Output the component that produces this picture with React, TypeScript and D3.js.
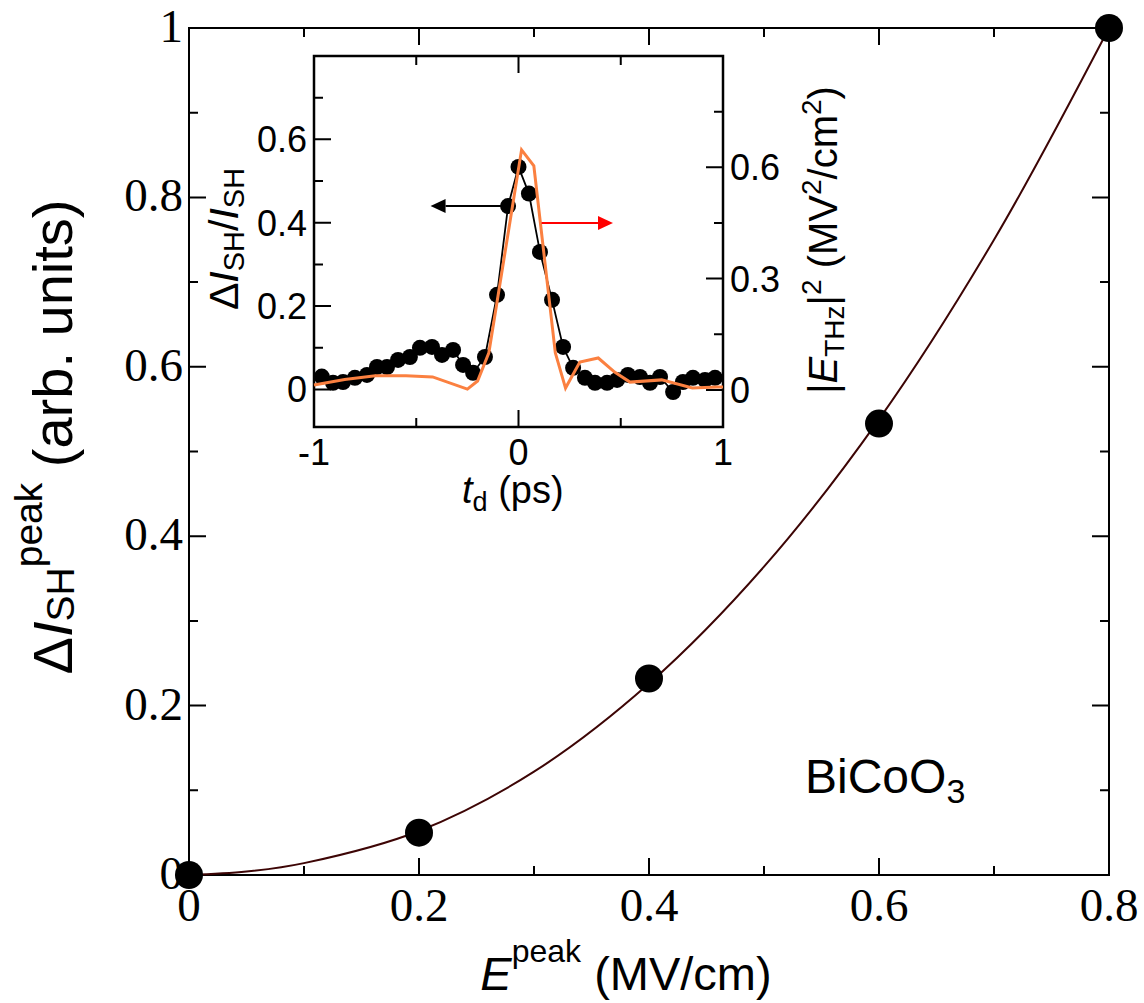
import React from 'react';
import * as d3 from 'd3';

// main panel: peak SH change vs THz peak field
const fieldPeak = [0, 0.2, 0.4, 0.6, 0.8];
const shPeak = [0, 0.05, 0.232, 0.533, 1.0];

// fit curve
const fitField = [0, 0.05, 0.1, 0.2, 0.3, 0.4, 0.5, 0.6, 0.7, 0.8];
const fitSh = [0, 0.004, 0.014, 0.052, 0.122, 0.226, 0.364, 0.538, 0.75, 1.0];

const mainXMajor = [0, 0.2, 0.4, 0.6, 0.8];
const mainXMinor = [0.1, 0.3, 0.5, 0.7];
const mainYMajor = [0, 0.2, 0.4, 0.6, 0.8, 1];
const mainYMinor = [0.1, 0.3, 0.5, 0.7, 0.9];

// inset: time traces
const delayT = [-0.962, -0.907, -0.858, -0.8, -0.741, -0.692, -0.643, -0.589, -0.531, -0.482,
  -0.423, -0.374, -0.32, -0.271, -0.222, -0.164, -0.105, -0.051, 0, 0.051,
  0.105, 0.164, 0.218, 0.267, 0.325, 0.374, 0.433, 0.482, 0.535, 0.594,
  0.643, 0.692, 0.756, 0.804, 0.853, 0.912, 0.961];
const shRatio = [0.031, 0.016, 0.018, 0.028, 0.035, 0.054, 0.054, 0.071, 0.078, 0.1,
  0.102, 0.083, 0.095, 0.059, 0.04, 0.078, 0.227, 0.44, 0.534, 0.47,
  0.33, 0.215, 0.102, 0.052, 0.028, 0.016, 0.016, 0.023, 0.035, 0.03,
  0.016, 0.03, -0.006, 0.018, 0.028, 0.023, 0.028];

const pumpT = [-1, -0.85, -0.7, -0.55, -0.42, -0.25, -0.2, -0.145, 0.015, 0.075,
  0.18, 0.23, 0.3, 0.39, 0.47, 0.545, 0.7, 0.85, 0.97, 1];
const pumpE2 = [0.013, 0.028, 0.038, 0.038, 0.035, 0.002, 0.024, 0.1, 0.647, 0.604,
  0.1, 0.005, 0.075, 0.086, 0.048, 0.021, 0.027, 0.005, 0.008, 0.008];

const insetXMajor = [-1, 0, 1];
const insetXMinor = [-0.5, 0.5];
const insetLMajor = [0, 0.2, 0.4, 0.6];
const insetLMinor = [0.1, 0.3, 0.5, 0.7];
const insetRMajor = [0, 0.3, 0.6];
const insetRMinor = [0.15, 0.45, 0.75];

// arrows: [start t, tip t, level]
const leftArrow = [-0.056, -0.43, 0.44];
const rightArrow = [0.113, 0.462, 0.45];

const SERIF = '"Liberation Serif", "Times New Roman", serif';
const SANS = '"Liberation Sans", Arial, sans-serif';
const ORANGE = '#fb8040';
const FIT = '#3d0505';

const x = d3.scaleLinear().domain([0, 0.8]).range([189, 1109]);
const y = d3.scaleLinear().domain([0, 1]).range([875, 28]);

const ix = d3.scaleLinear().domain([-1, 1]).range([314, 723]);
const iyL = d3.scaleLinear().domain([-0.09, 0.8]).range([427, 56]);
const iyR = d3.scaleLinear().domain([-0.1, 0.9]).range([427, 56]);

function xTicks(sc, vals, y0, y1, len) {
  return vals.map(v => `M${sc(v)},${y0}v${-len}M${sc(v)},${y1}v${len}`).join('');
}
function yTicks(sc, vals, x0, x1, len) {
  return vals.map(v => `M${x0},${sc(v)}h${len}M${x1},${sc(v)}h${-len}`).join('');
}

function Arrow({ a, xs, ys, color }) {
  const [from, to, lvl] = a;
  const x0 = xs(from), x1 = xs(to), yy = ys(lvl);
  const dir = x1 > x0 ? 1 : -1;
  const head = 15;
  return (
    <g>
      <line x1={x0} y1={yy} x2={x1 - dir * head} y2={yy} stroke={color} strokeWidth={2} />
      <path d={`M${x1},${yy}L${x1 - dir * head},${yy - 7}L${x1 - dir * head},${yy + 7}Z`} fill={color} />
    </g>
  );
}

export default function App() {
  const fitLine = d3.line<number>()
    .x((d, i) => x(fitField[i]))
    .y(d => y(d))
    .curve(d3.curveCatmullRom);
  const shLine = d3.line<number>()
    .x((d, i) => ix(delayT[i]))
    .y(d => iyL(d));
  const pumpLine = d3.line<number>()
    .x((d, i) => ix(pumpT[i]))
    .y(d => iyR(d));

  const [mx0, mx1] = x.range();
  const [my0, my1] = y.range();
  const [ix0, ix1] = ix.range();
  const [iy0, iy1] = iyL.range();

  return (
    <svg width={1144} height={1003} style={{ position: 'absolute', left: 0, top: 0, background: '#fff' }}>
      {/* main frame */}
      <rect x={mx0} y={my1} width={mx1 - mx0} height={my0 - my1} fill="none" stroke="#000" strokeWidth={2} />
      <path d={xTicks(x, mainXMajor, my0, my1, 17) + xTicks(x, mainXMinor, my0, my1, 9)} stroke="#000" strokeWidth={2} />
      <path d={yTicks(y, mainYMajor, mx0, mx1, 17) + yTicks(y, mainYMinor, mx0, mx1, 9)} stroke="#000" strokeWidth={2} />

      <g fontFamily={SERIF} fontSize={47} fill="#000">
        {mainYMajor.map(v => (
          <text key={'y' + v} x={183} y={y(v) + 14} textAnchor="end">{d3.format('~g')(v)}</text>
        ))}
        {mainXMajor.map(v => (
          <text key={'x' + v} x={x(v)} y={921} textAnchor="middle">{d3.format('~g')(v)}</text>
        ))}
      </g>

      <path d={fitLine(fitSh) || ''} fill="none" stroke={FIT} strokeWidth={2} />
      {shPeak.map((v, i) => (
        <circle key={i} cx={x(fieldPeak[i])} cy={y(v)} r={14} fill="#000" />
      ))}

      <g fontFamily={SANS} fill="#000">
        <text x={626} y={990} fontSize={47} textAnchor="middle">
          <tspan fontStyle="italic">E</tspan>
          <tspan fontSize={32} dy={-28}>peak</tspan>
          <tspan dy={28}> (MV/cm)</tspan>
        </text>
        <text transform={`translate(72,437) rotate(-90)`} fontSize={56} textAnchor="middle">
          <tspan>Δ</tspan>
          <tspan fontStyle="italic">I</tspan>
          <tspan fontSize={39} dy={2}>SH</tspan>
          <tspan fontSize={39} dy={-32}>peak</tspan>
          <tspan dy={30}> (arb. units)</tspan>
        </text>
        <text x={805} y={793} fontSize={48}>
          BiCoO<tspan fontSize={34} dy={10}>3</tspan>
        </text>
      </g>

      {/* inset */}
      <rect x={ix0} y={iy1} width={ix1 - ix0} height={iy0 - iy1} fill="none" stroke="#000" strokeWidth={2.5} />
      <path d={xTicks(ix, insetXMajor, iy0, iy1, 17) + xTicks(ix, insetXMinor, iy0, iy1, 9)} stroke="#000" strokeWidth={2} />
      <path d={insetLMajor.map(v => `M${ix0},${iyL(v)}h17`).join('') + insetLMinor.map(v => `M${ix0},${iyL(v)}h9`).join('')} stroke="#000" strokeWidth={2} />
      <path d={insetRMajor.map(v => `M${ix1},${iyR(v)}h-17`).join('') + insetRMinor.map(v => `M${ix1},${iyR(v)}h-9`).join('')} stroke="#000" strokeWidth={2} />

      <g fontFamily={SANS} fontSize={36} fill="#000">
        {insetLMajor.map(v => (
          <text key={'l' + v} x={307} y={iyL(v) + 13} textAnchor="end">{d3.format('~g')(v)}</text>
        ))}
        {insetRMajor.map(v => (
          <text key={'r' + v} x={730} y={iyR(v) + 13}>{d3.format('~g')(v)}</text>
        ))}
        {insetXMajor.map(v => (
          <text key={'b' + v} x={ix(v)} y={465} textAnchor="middle">{v < 0 ? '-' + Math.abs(v) : v}</text>
        ))}
        <text x={462} y={503} fontSize={38}>
          <tspan fontStyle="italic">t</tspan>
          <tspan fontSize={27} dy={8}>d</tspan>
          <tspan dy={-8}> (ps)</tspan>
        </text>
        <text transform="translate(238,239) rotate(-90)" fontSize={41} textAnchor="middle">
          <tspan>Δ</tspan>
          <tspan fontStyle="italic">I</tspan>
          <tspan fontSize={29} dy={6}>SH</tspan>
          <tspan dy={-6}>/</tspan>
          <tspan fontStyle="italic">I</tspan>
          <tspan fontSize={29} dy={6}>SH</tspan>
        </text>
        <text transform="translate(837,240) rotate(-90)" fontSize={40} textAnchor="middle">
          <tspan>|</tspan>
          <tspan fontStyle="italic">E</tspan>
          <tspan fontSize={28} dy={7}>THz</tspan>
          <tspan dy={-7}>|</tspan>
          <tspan fontSize={28} dy={-16}>2</tspan>
          <tspan dy={16}> (MV</tspan>
          <tspan fontSize={28} dy={-16}>2</tspan>
          <tspan dy={16}>/cm</tspan>
          <tspan fontSize={28} dy={-16}>2</tspan>
          <tspan dy={16}>)</tspan>
        </text>
      </g>

      <path d={shLine(shRatio) || ''} fill="none" stroke="#000" strokeWidth={1.8} />
      {shRatio.map((v, i) => (
        <circle key={i} cx={ix(delayT[i])} cy={iyL(v)} r={8} fill="#000" />
      ))}
      <path d={pumpLine(pumpE2) || ''} fill="none" stroke={ORANGE} strokeWidth={3} strokeLinejoin="miter" />

      <Arrow a={leftArrow} xs={ix} ys={iyL} color="#000" />
      <Arrow a={rightArrow} xs={ix} ys={iyR} color="#ff0000" />
    </svg>
  );
}
